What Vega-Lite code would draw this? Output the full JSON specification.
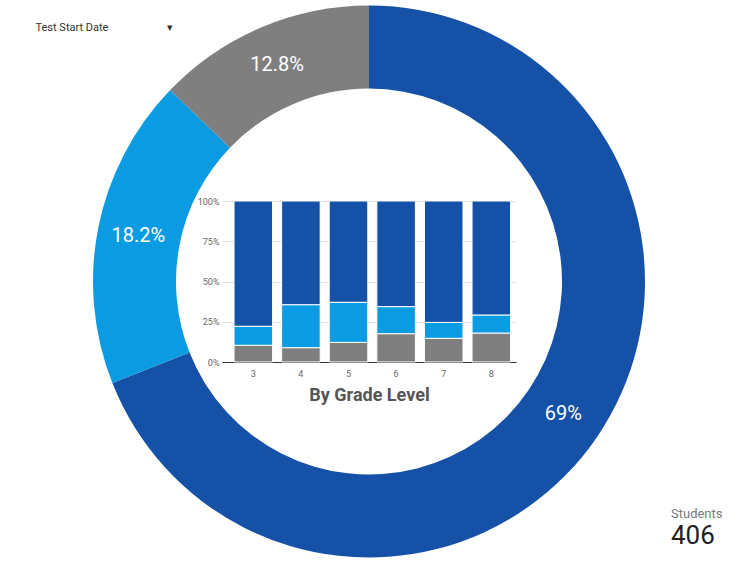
{
  "$schema": "https://vega.github.io/schema/vega-lite/v6.json",
  "width": 294,
  "height": 161,
  "autosize": {"type": "none"},
  "padding": {"left": 222, "top": 201, "right": 228, "bottom": 208},
  "background": "white",
  "config": {"font": "Roboto", "view": {"stroke": null}},
  "title": {
    "text": "Students",
    "subtitle": "406",
    "orient": "top",
    "anchor": "end",
    "frame": "group",
    "align": "left",
    "dx": 155,
    "dy": 547,
    "fontSize": 13,
    "fontWeight": "normal",
    "color": "#7a7a7a",
    "subtitleFontSize": 26,
    "subtitleColor": "#222222",
    "subtitlePadding": 2
  },
  "datasets": {
    "overall": [
      {"status": "On or Above", "ord": 0, "pct": 0.69},
      {"status": "Near", "ord": 1, "pct": 0.182},
      {"status": "Below", "ord": 2, "pct": 0.128}
    ],
    "grades": [
      {"grade": "3", "status": "Below", "ord": 2, "share": 10.4},
      {"grade": "3", "status": "Near", "ord": 1, "share": 11.8},
      {"grade": "3", "status": "On or Above", "ord": 0, "share": 77.8},
      {"grade": "4", "status": "Below", "ord": 2, "share": 8.9},
      {"grade": "4", "status": "Near", "ord": 1, "share": 26.7},
      {"grade": "4", "status": "On or Above", "ord": 0, "share": 64.4},
      {"grade": "5", "status": "Below", "ord": 2, "share": 12.2},
      {"grade": "5", "status": "Near", "ord": 1, "share": 24.9},
      {"grade": "5", "status": "On or Above", "ord": 0, "share": 62.9},
      {"grade": "6", "status": "Below", "ord": 2, "share": 17.6},
      {"grade": "6", "status": "Near", "ord": 1, "share": 16.8},
      {"grade": "6", "status": "On or Above", "ord": 0, "share": 65.6},
      {"grade": "7", "status": "Below", "ord": 2, "share": 14.7},
      {"grade": "7", "status": "Near", "ord": 1, "share": 9.9},
      {"grade": "7", "status": "On or Above", "ord": 0, "share": 75.4},
      {"grade": "8", "status": "Below", "ord": 2, "share": 18.0},
      {"grade": "8", "status": "Near", "ord": 1, "share": 11.2},
      {"grade": "8", "status": "On or Above", "ord": 0, "share": 70.8}
    ]
  },
  "layer": [
    {
      "data": {"name": "overall"},
      "mark": {"type": "arc", "innerRadius": 193, "outerRadius": 276},
      "encoding": {
        "theta": {"field": "pct", "type": "quantitative", "stack": true},
        "order": {"field": "ord", "type": "quantitative"},
        "color": {
          "field": "status",
          "type": "nominal",
          "scale": {"domain": ["On or Above", "Near", "Below"], "range": ["#1551a7", "#0a9be2", "#7f7f7f"]},
          "legend": null
        }
      }
    },
    {
      "data": {"name": "overall"},
      "mark": {"type": "text", "radius": 235, "fontSize": 20, "color": "white"},
      "encoding": {
        "theta": {"field": "pct", "type": "quantitative", "stack": true},
        "order": {"field": "ord", "type": "quantitative"},
        "text": {"field": "pct", "type": "quantitative", "format": ".3~p"}
      }
    },
    {
      "data": {"name": "grades"},
      "mark": {"type": "bar", "stroke": "white", "strokeWidth": 1},
      "encoding": {
        "x": {
          "field": "grade",
          "type": "ordinal",
          "scale": {"paddingInner": 0.19, "paddingOuter": 0.183, "align": 0.69},
          "axis": {
            "title": "By Grade Level",
            "titleFontSize": 18,
            "titleFontWeight": "bold",
            "titleColor": "#555555",
            "titlePadding": 8,
            "labelAngle": 0,
            "labelFontSize": 9,
            "labelColor": "#666666",
            "labelPadding": 7,
            "ticks": false,
            "domainColor": "#333333",
            "domainWidth": 1
          }
        },
        "y": {
          "field": "share",
          "type": "quantitative",
          "stack": "normalize",
          "axis": {
            "values": [0, 0.25, 0.5, 0.75, 1],
            "format": ".0%",
            "labelFontSize": 9,
            "labelColor": "#666666",
            "labelPadding": 3,
            "ticks": false,
            "domain": false,
            "gridColor": "#e0e0e0",
            "title": "Test Start Date\u2003\u2003\u2003\u2003\u2003\u2009▾",
            "titleAngle": 0,
            "titleX": -187,
            "titleY": -174,
            "titleAlign": "left",
            "titleBaseline": "middle",
            "titleFontSize": 11,
            "titleFontWeight": "normal",
            "titleColor": "#333333"
          }
        },
        "color": {"field": "status", "type": "nominal", "legend": null},
        "order": {"field": "ord", "type": "quantitative", "sort": "descending"}
      }
    }
  ]
}
